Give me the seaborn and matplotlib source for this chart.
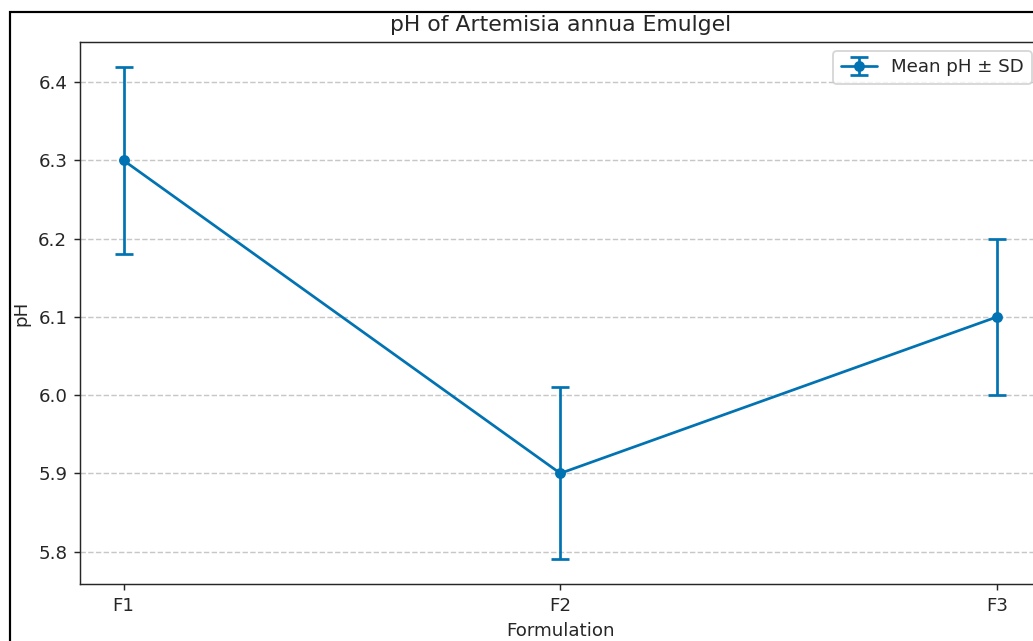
import matplotlib
matplotlib.use("Agg")
import matplotlib.pyplot as plt
from matplotlib.patches import Rectangle
from matplotlib.transforms import Bbox
from matplotlib.legend_handler import HandlerTuple
import seaborn as sns
import pandas as pd

# Mean pH and standard deviation for each emulgel formulation
formulations = ["F1", "F2", "F3"]
mean_ph = [6.30, 5.90, 6.10]
sd_ph = [0.12, 0.11, 0.10]

sns.set_style("ticks")
plt.rcParams["font.family"] = ["DejaVu Sans"]
color = sns.color_palette("colorblind")[0]

df = pd.DataFrame({"Formulation": formulations, "pH": mean_ph, "SD": sd_ph})

# the full figure is a little wider than the saved view
W, H, dpi = 1033, 641, 131
FW = 1080
fig = plt.figure(figsize=(FW / dpi, H / dpi), dpi=dpi)
ax = fig.add_axes([80 / FW, 57 / H, 960.6 / FW, 542 / H])

sns.lineplot(data=df, x="Formulation", y="pH", marker="o", markersize=6,
             markeredgewidth=0, color=color, linewidth=1.5, ax=ax,
             sort=False, legend=False)
line = ax.get_lines()[-1]
err = ax.errorbar(df["Formulation"], df["pH"], yerr=df["SD"], fmt="none",
                  ecolor=color, elinewidth=1.5, capsize=5, capthick=1.5)

ax.set_title("pH of Artemisia annua Emulgel", fontsize=12)
ax.set_xlabel("Formulation", fontsize=10)
ax.set_ylabel("pH", fontsize=10)
ax.tick_params(labelsize=10, width=0.8, length=3.5)
ax.yaxis.grid(True, linestyle="--", color="#b0b0b0", alpha=0.7)
ax.xaxis.grid(False)
for s in ax.spines.values():
    s.set_visible(True)
    s.set_color("#262626")
    s.set_linewidth(0.8)

ax.legend(handles=[(line, err)], labels=["Mean pH ± SD"],
          handler_map={tuple: HandlerTuple(ndivide=1)},
          loc="upper right", fontsize=10, frameon=True)

# outer frame line around the figure area
fig.patches.append(Rectangle((10 / FW, -0.1), 1.2, (H - 12) / H + 0.1,
                             transform=fig.transFigure, fill=False,
                             edgecolor="black", linewidth=1.2, zorder=0))

fig.savefig("out.png", dpi=dpi,
            bbox_inches=Bbox.from_bounds(0, 0, W / dpi, H / dpi))
